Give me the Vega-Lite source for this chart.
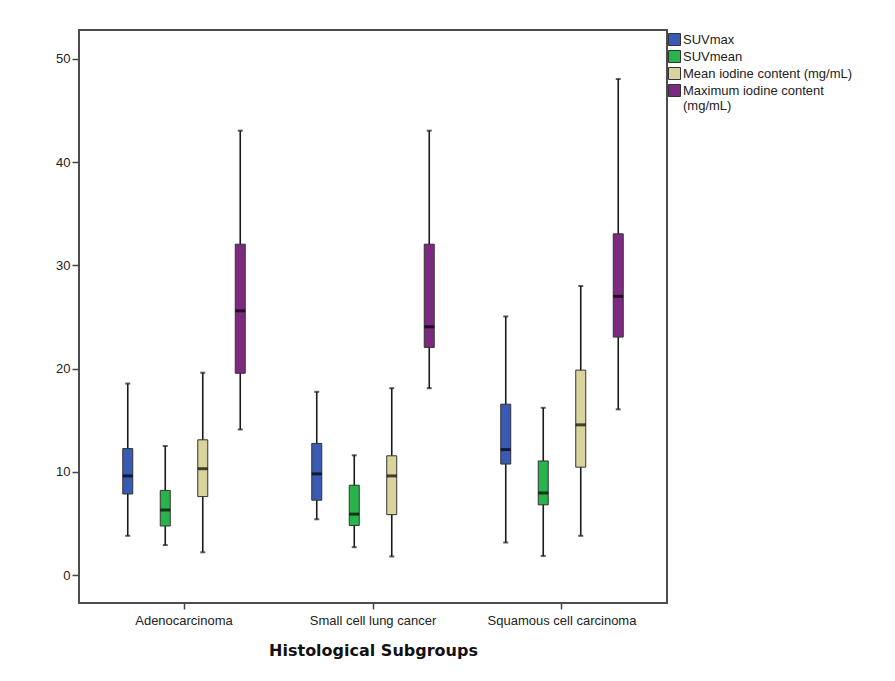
{
  "$schema": "https://vega.github.io/schema/vega-lite/v6.json",
  "width": 588,
  "height": 573,
  "autosize": {"type": "none"},
  "padding": {"left": 79, "top": 30, "right": 228, "bottom": 78},
  "background": "white",
  "config": {
    "font": "Liberation Sans",
    "view": {"stroke": "#4d4d4d", "strokeWidth": 2},
    "axis": {"domain": false, "grid": false, "labelColor": "#222", "tickColor": "#444", "tickWidth": 1.5}
  },
  "data": {
    "values": [
      {"group": "Adenocarcinoma", "measure": "SUVmax", "lower": 3.8, "q1": 7.85, "median": 9.6, "q3": 12.25, "upper": 18.55},
      {"group": "Adenocarcinoma", "measure": "SUVmean", "lower": 2.9, "q1": 4.75, "median": 6.3, "q3": 8.2, "upper": 12.5},
      {"group": "Adenocarcinoma", "measure": "Mean iodine content (mg/mL)", "lower": 2.2, "q1": 7.6, "median": 10.3, "q3": 13.1, "upper": 19.6},
      {"group": "Adenocarcinoma", "measure": "Maximum iodine content (mg/mL)", "lower": 14.1, "q1": 19.55, "median": 25.6, "q3": 32.05, "upper": 43.05},
      {"group": "Small cell lung cancer", "measure": "SUVmax", "lower": 5.4, "q1": 7.25, "median": 9.8, "q3": 12.75, "upper": 17.75},
      {"group": "Small cell lung cancer", "measure": "SUVmean", "lower": 2.7, "q1": 4.8, "median": 5.9, "q3": 8.7, "upper": 11.6},
      {"group": "Small cell lung cancer", "measure": "Mean iodine content (mg/mL)", "lower": 1.8, "q1": 5.85, "median": 9.6, "q3": 11.55, "upper": 18.1},
      {"group": "Small cell lung cancer", "measure": "Maximum iodine content (mg/mL)", "lower": 18.1, "q1": 22.05, "median": 24.05, "q3": 32.05, "upper": 43.05},
      {"group": "Squamous cell carcinoma", "measure": "SUVmax", "lower": 3.15, "q1": 10.75, "median": 12.15, "q3": 16.55, "upper": 25.05},
      {"group": "Squamous cell carcinoma", "measure": "SUVmean", "lower": 1.85, "q1": 6.8, "median": 7.95, "q3": 11.05, "upper": 16.2},
      {"group": "Squamous cell carcinoma", "measure": "Mean iodine content (mg/mL)", "lower": 3.8, "q1": 10.45, "median": 14.55, "q3": 19.85, "upper": 28.0},
      {"group": "Squamous cell carcinoma", "measure": "Maximum iodine content (mg/mL)", "lower": 16.05, "q1": 23.05, "median": 27.0, "q3": 33.05, "upper": 48.05}
    ]
  },
  "encoding": {
    "x": {
      "field": "group", "type": "nominal",
      "scale": {"paddingInner": 0, "paddingOuter": 0.0556},
      "axis": {"title": "Histological Subgroups", "labelAngle": 0, "labelFontSize": 13, "labelPadding": 5, "tickSize": 6,
               "titleFont": "DejaVu Sans", "titleFontSize": 16, "titleFontWeight": "bold", "titleColor": "#111", "titlePadding": 15}
    },
    "xOffset": {
      "field": "measure", "type": "nominal",
      "sort": ["SUVmax", "SUVmean", "Mean iodine content (mg/mL)", "Maximum iodine content (mg/mL)"],
      "scale": {"paddingInner": 0, "paddingOuter": 0.52}
    }
  },
  "layer": [
    {
      "mark": {"type": "rule", "color": "#1a1a1a", "strokeWidth": 1.6},
      "encoding": {
        "y": {"field": "lower", "type": "quantitative",
              "scale": {"domain": [-2.71, 52.8], "nice": false, "zero": false},
              "axis": {"title": null, "values": [0, 10, 20, 30, 40, 50], "labelFontSize": 13, "tickSize": 7, "labelPadding": 2}},
        "y2": {"field": "upper"}
      }
    },
    {
      "mark": {"type": "tick", "orient": "horizontal", "color": "#1a1a1a", "size": 5, "thickness": 2},
      "encoding": {"y": {"field": "lower", "type": "quantitative"}}
    },
    {
      "mark": {"type": "tick", "orient": "horizontal", "color": "#1a1a1a", "size": 5, "thickness": 2},
      "encoding": {"y": {"field": "upper", "type": "quantitative"}}
    },
    {
      "mark": {"type": "bar", "size": 10, "stroke": "#333", "strokeWidth": 1, "opacity": 1},
      "encoding": {
        "y": {"field": "q1", "type": "quantitative"},
        "y2": {"field": "q3"},
        "fill": {
          "field": "measure", "type": "nominal",
          "sort": ["SUVmax", "SUVmean", "Mean iodine content (mg/mL)", "Maximum iodine content (mg/mL)"],
          "scale": {"range": ["#3a5bb3", "#28b44a", "#d8d49c", "#7b2a80"]},
          "legend": {
            "title": null, "orient": "none", "legendX": 589, "legendY": 3,
            "symbolType": "square", "symbolSize": 144, "symbolStrokeColor": "#333", "symbolStrokeWidth": 1,
            "labelFontSize": 13, "labelColor": "#222", "labelOffset": 2, "rowPadding": 0, "labelLimit": 300,
            "labelExpr": "datum.label == 'Maximum iodine content (mg/mL)' ? ['Maximum iodine content', '(mg/mL)'] : datum.label"
          }
        }
      }
    },
    {
      "mark": {"type": "tick", "orient": "horizontal", "color": "#000", "size": 10, "thickness": 3},
      "encoding": {"y": {"field": "median", "type": "quantitative"}}
    }
  ]
}
